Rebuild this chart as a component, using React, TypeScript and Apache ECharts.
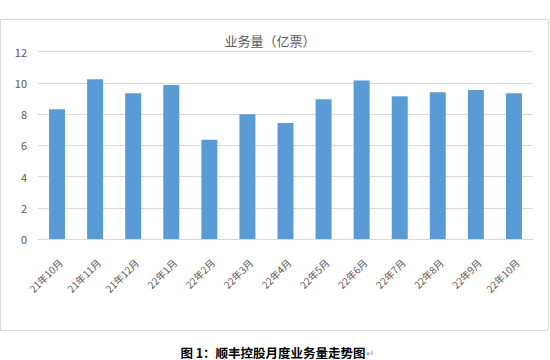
import React, { useEffect, useRef } from "react";
import * as echarts from "echarts";

const categories = ["21年10月", "21年11月", "21年12月", "22年1月", "22年2月", "22年3月", "22年4月", "22年5月", "22年6月", "22年7月", "22年8月", "22年9月", "22年10月"];
const volumes = [8.3, 10.22, 9.33, 9.85, 6.35, 7.98, 7.43, 8.95, 10.15, 9.14, 9.4, 9.53, 9.33];
const yTicks = [0, 2, 4, 6, 8, 10, 12];

const chartTitle = "业务量（亿票）";
const caption = "图 1：顺丰控股月度业务量走势图";

export default function App() {
  const ref = useRef<HTMLDivElement>(null);
  useEffect(() => {
    if (!ref.current) return;
    const chart = echarts.init(ref.current, undefined, { renderer: "svg" });
    const font = "'Noto Sans CJK SC', 'Microsoft YaHei', sans-serif";
    chart.setOption({
      animation: false,
      backgroundColor: "#ffffff",
      textStyle: { fontFamily: font },
      title: {
        text: chartTitle,
        left: 265,
        textAlign: "center",
        top: 29,
        textStyle: { fontSize: 13, fontWeight: "normal", color: "#595959", fontFamily: font },
      },
      grid: { left: 38, right: 17, top: 51.5, bottom: 121, containLabel: false },
      xAxis: {
        type: "category",
        data: categories,
        axisLine: { show: true, lineStyle: { color: "#d9d9d9" } },
        axisTick: { show: false },
        axisLabel: {
          rotate: 45,
          color: "#595959",
          fontSize: 10,
          margin: 18,
          interval: 0,
          align: "right",
          verticalAlign: "top",
          fontFamily: font,
        },
      },
      yAxis: {
        type: "value",
        min: yTicks[0],
        max: yTicks[yTicks.length - 1],
        interval: 2,
        axisLine: { show: false },
        axisTick: { show: false },
        splitLine: { lineStyle: { color: "#d9d9d9" } },
        axisLabel: { color: "#595959", fontSize: 11, margin: 11, fontFamily: font },
      },
      series: [
        {
          type: "bar",
          data: volumes,
          barWidth: "42%",
          itemStyle: { color: "#5b9bd5" },
        },
      ],
      graphic: [
        {
          type: "rect",
          shape: { x: 0.5, y: 19.5, width: 548, height: 311 },
          style: { fill: "none", stroke: "#d9d9d9", lineWidth: 1 },
          silent: true,
        },
        {
          type: "text",
          x: 277,
          y: 352,
          style: {
            text: "{a|" + caption + "}{b|↵}",
            align: "center",
            verticalAlign: "middle",
            rich: {
              a: { fontSize: 12.5, fontWeight: "bold", fill: "#000000", fontFamily: font },
              b: { fontSize: 10, fill: "#999999", fontFamily: font },
            },
          },
        },
      ],
    });
    return () => chart.dispose();
  }, []);
  return (
    <div
      ref={ref}
      style={{ position: "fixed", left: 0, top: 0, width: 550, height: 360 }}
    />
  );
}
